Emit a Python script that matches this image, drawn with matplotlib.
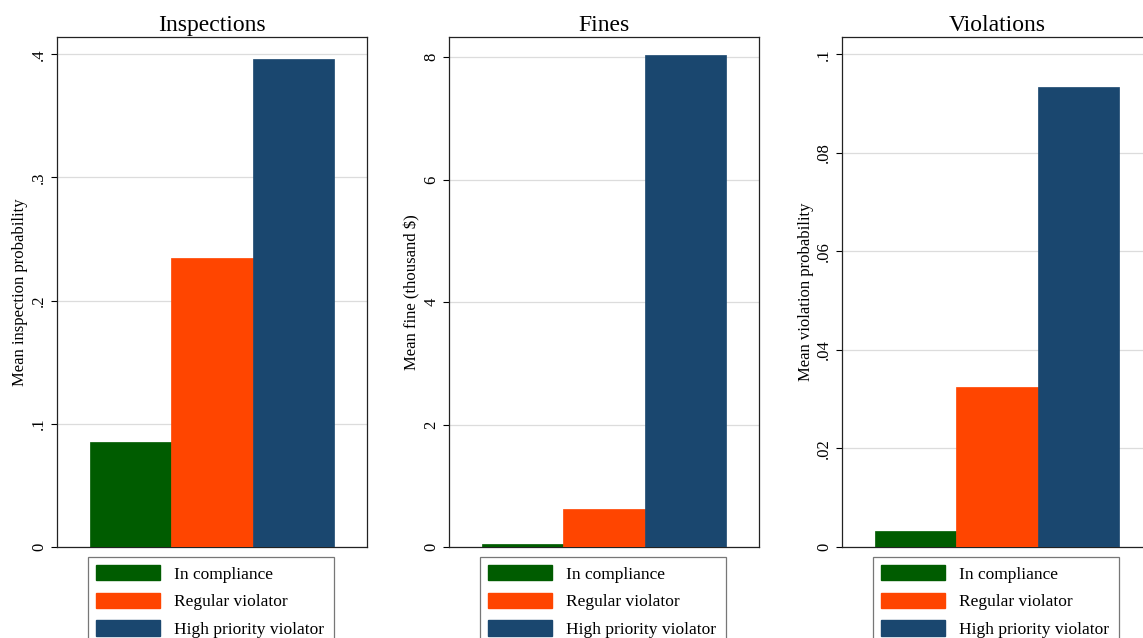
import numpy as np
import matplotlib
matplotlib.use("Agg")
import matplotlib.pyplot as plt

plt.rcParams['font.family'] = ['Liberation Serif', 'DejaVu Serif']

# data
groups = ["In compliance", "Regular violator", "High priority violator"]
colors = ["#005c00", "#ff4500", "#1a476f"]

titles = ["Inspections", "Fines", "Violations"]
ylabels = ["Mean inspection probability", "Mean fine (thousand $)", "Mean violation probability"]

inspections = [0.0852, 0.2344, 0.3958]
fines = [0.05, 0.62, 8.04]
violations = [0.00325, 0.0325, 0.0933]

yticks_insp = [0, 0.1, 0.2, 0.3, 0.4]
ylabs_insp = ["0", ".1", ".2", ".3", ".4"]
yticks_fine = [0, 2, 4, 6, 8]
ylabs_fine = ["0", "2", "4", "6", "8"]
yticks_viol = [0, 0.02, 0.04, 0.06, 0.08, 0.1]
ylabs_viol = ["0", ".02", ".04", ".06", ".08", ".1"]

ytops = [0.414, 8.33, 0.1035]

W, H = 1143, 638
fig = plt.figure(figsize=(W / 100, H / 100), dpi=100)

lefts = [57, 449, 842]
panels = [
    (inspections, yticks_insp, ylabs_insp),
    (fines, yticks_fine, ylabs_fine),
    (violations, yticks_viol, ylabs_viol),
]

for i, (vals, ticks, labs) in enumerate(panels):
    ax = fig.add_axes([lefts[i] / W, (H - 547) / H, 310 / W, 510 / H])
    x = np.arange(len(vals))
    ax.bar(x, vals, width=1.0, color=colors, edgecolor=colors, linewidth=0.5, zorder=3)
    ax.set_xlim(-0.905, 2.905)
    ax.set_ylim(0, ytops[i])
    ax.set_xticks([])
    ax.set_yticks(ticks)
    ax.set_yticklabels(labs, rotation=90, va="center")
    ax.tick_params(axis="y", length=4, width=0.8, labelsize=12, pad=3)
    ax.yaxis.grid(True, color="#dcdcdc", linewidth=0.9, zorder=0)
    ax.set_axisbelow(True)
    for s in ax.spines.values():
        s.set_linewidth(0.9)
        s.set_color("#222222")
    ax.set_title(titles[i], fontsize=17, pad=4)
    ax.set_ylabel(ylabels[i], fontsize=12, labelpad=2)

    handles = [plt.Rectangle((0, 0), 1, 1, facecolor=c, edgecolor=c) for c in colors]
    x0 = (lefts[i] + 31) / W
    leg = fig.legend(handles, groups, loc="upper left",
                     bbox_to_anchor=(x0, 1 - 557 / H, 246 / W, 0),
                     bbox_transform=fig.transFigure, mode="expand",
                     borderaxespad=0, fontsize=12.5, fancybox=False,
                     handlelength=3.68, handleheight=0.98, handletextpad=0.8,
                     labelspacing=0.58, borderpad=0.46, frameon=True)
    leg.get_frame().set_edgecolor("#555555")
    leg.get_frame().set_linewidth(0.9)

fig.savefig("out.png", dpi=100)
